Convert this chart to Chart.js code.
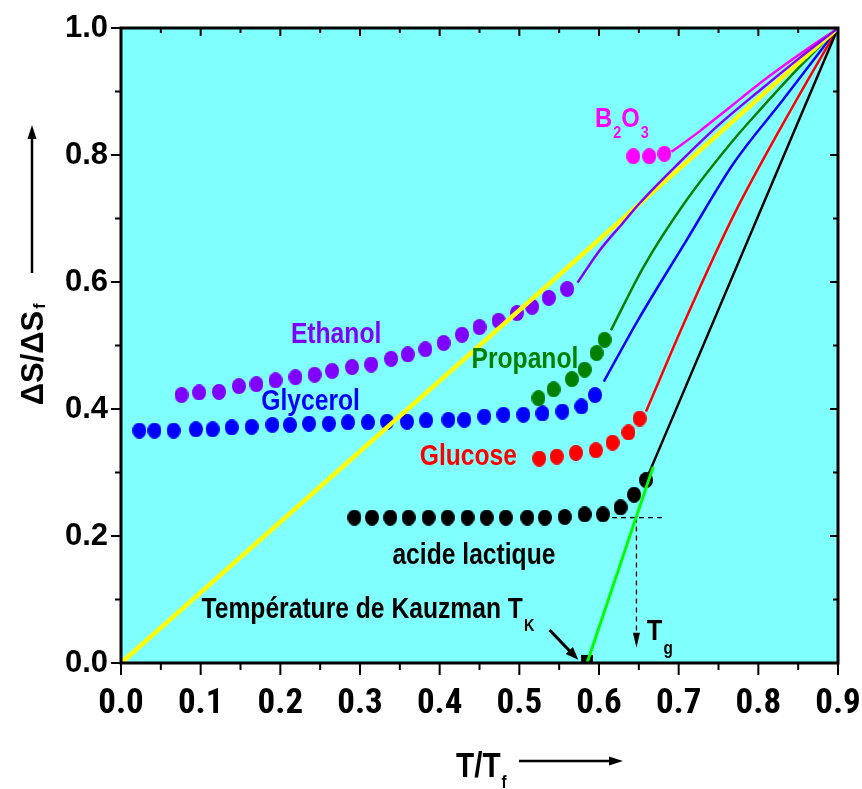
<!DOCTYPE html>
<html>
<head>
<meta charset="utf-8">
<script src="https://cdn.jsdelivr.net/npm/chart.js@4.4.1/dist/chart.umd.min.js"></script>
<style>
  html, body { margin: 0; padding: 0; background: #fff; }
  canvas { display: block; }
</style>
</head>
<body>
<canvas id="kauzChart" width="862" height="789"></canvas>
<script>
// valeurs : T/Tf (x) et ΔS/ΔSf (y)
const ethanolT = [0.076, 0.098, 0.123, 0.148, 0.170, 0.194, 0.219, 0.243, 0.265, 0.290, 0.314, 0.339, 0.360, 0.382, 0.405, 0.428, 0.450, 0.474, 0.497, 0.516, 0.537, 0.560];
const ethanolS = [0.422, 0.426, 0.427, 0.436, 0.439, 0.445, 0.450, 0.454, 0.460, 0.466, 0.470, 0.479, 0.486, 0.494, 0.504, 0.517, 0.529, 0.539, 0.551, 0.561, 0.575, 0.589];
const ethanolCurveT = [0.573, 0.601, 0.630, 0.651, 0.700, 0.750, 0.802, 0.850, 0.900];
const ethanolCurveS = [0.599, 0.650, 0.693, 0.724, 0.787, 0.847, 0.902, 0.951, 1.000];

const glycerolT = [0.023, 0.042, 0.066, 0.094, 0.115, 0.139, 0.164, 0.190, 0.212, 0.236, 0.261, 0.285, 0.310, 0.334, 0.359, 0.383, 0.411, 0.431, 0.456, 0.480, 0.505, 0.529, 0.554, 0.578, 0.595];
const glycerolS = [0.366, 0.366, 0.366, 0.368, 0.368, 0.371, 0.372, 0.375, 0.375, 0.377, 0.377, 0.379, 0.379, 0.380, 0.380, 0.382, 0.383, 0.383, 0.388, 0.391, 0.391, 0.393, 0.396, 0.404, 0.422];
const glycerolCurveT = [0.606, 0.649, 0.710, 0.769, 0.831, 0.900];
const glycerolCurveS = [0.443, 0.540, 0.666, 0.787, 0.887, 1.000];

const propanolT = [0.524, 0.543, 0.566, 0.582, 0.597, 0.607];
const propanolS = [0.417, 0.431, 0.447, 0.462, 0.488, 0.509];
const propanolCurveT = [0.615, 0.656, 0.710, 0.769, 0.802, 0.852, 0.900];
const propanolCurveS = [0.524, 0.624, 0.729, 0.824, 0.871, 0.939, 1.000];

const glucoseT = [0.525, 0.547, 0.571, 0.596, 0.617, 0.637, 0.651];
const glucoseS = [0.322, 0.325, 0.331, 0.335, 0.347, 0.363, 0.385];
const glucoseCurveT = [0.659, 0.710, 0.769, 0.848, 0.900];
const glucoseCurveS = [0.396, 0.545, 0.705, 0.887, 1.000];

const lactiqueT = [0.293, 0.315, 0.338, 0.361, 0.386, 0.410, 0.435, 0.459, 0.483, 0.510, 0.532, 0.557, 0.582, 0.605, 0.627, 0.644, 0.659];
const lactiqueS = [0.229, 0.229, 0.229, 0.229, 0.229, 0.229, 0.229, 0.229, 0.229, 0.229, 0.229, 0.230, 0.234, 0.234, 0.245, 0.265, 0.288];
const lactiqueCurveT = [0.659, 0.900];
const lactiqueCurveS = [0.288, 1.000];

const b2o3T = [0.643, 0.663, 0.682];
const b2o3S = [0.798, 0.798, 0.802];
const b2o3CurveT = [0.691, 0.727, 0.752, 0.777, 0.802, 0.850, 0.900];
const b2o3CurveS = [0.805, 0.838, 0.863, 0.888, 0.913, 0.957, 1.000];

// droite ΔS/ΔSf = (T/Tf)/0.9
const idealT = [0, 0.9];
const idealS = [0, 1];

// extrapolation vers Kauzman
const kauzT = [0.585, 0.668];
const kauzS = [0.000, 0.309];
const tkT = 0.585;

// Tg : pointillés
const tgT = 0.647;
const tgS = 0.229;
const tgLevelT = [0.605, 0.682];
const tgDropS = [0.229, 0.047];

const xTicks = [0, 0.1, 0.2, 0.3, 0.4, 0.5, 0.6, 0.7, 0.8, 0.9];
const yTicks = [0, 0.2, 0.4, 0.6, 0.8, 1.0];

const SANS = '"Liberation Sans", Arial, sans-serif';
const COND = '"Roboto Condensed", "DejaVu Sans Condensed", sans-serif';
const SQUEEZE = 0.85; // Arial Narrow ~ Arial compressé

const zip = (xs, ys) => xs.map((x, i) => ({ x: x, y: ys[i] }));

function dot(color) {
  const c = document.createElement('canvas');
  c.width = 14; c.height = 16;
  const g = c.getContext('2d');
  g.fillStyle = color;
  g.beginPath();
  g.ellipse(7, 8, 7, 8, 0, 0, Math.PI * 2);
  g.fill();
  return c;
}

function tkMark() {
  const c = document.createElement('canvas');
  c.width = 12; c.height = 8;
  const g = c.getContext('2d');
  g.fillStyle = '#000';
  g.fillRect(0, 0, 12, 8);
  return c;
}

function pts(xs, ys, color) {
  return { data: zip(xs, ys), showLine: false, pointStyle: dot(color), pointRadius: 8, pointHoverRadius: 8 };
}

function curve(xs, ys, color, width) {
  return {
    data: zip(xs, ys), showLine: true, borderColor: color, borderWidth: width || 2.5,
    pointRadius: 0, cubicInterpolationMode: 'monotone', fill: false
  };
}

function dashed(xs, ys) {
  return { data: zip(xs, ys), showLine: true, borderColor: '#000', borderWidth: 1.3, borderDash: [5, 4], pointRadius: 0 };
}

function arrowHead(ctx, x1, y1, x2, y2, len, half) {
  const a = Math.atan2(y2 - y1, x2 - x1);
  ctx.beginPath();
  ctx.moveTo(x2, y2);
  ctx.lineTo(x2 - len * Math.cos(a) + half * Math.sin(a), y2 - len * Math.sin(a) - half * Math.cos(a));
  ctx.lineTo(x2 - len * Math.cos(a) - half * Math.sin(a), y2 - len * Math.sin(a) + half * Math.cos(a));
  ctx.closePath();
  ctx.fill();
}

// texte gras étroit, renvoie la largeur dessinée
function narrow(ctx, text, x, y, size, align, baseline) {
  ctx.save();
  ctx.font = 'bold ' + size + 'px ' + SANS;
  ctx.textAlign = align || 'left';
  ctx.textBaseline = baseline || 'alphabetic';
  ctx.translate(x, y);
  ctx.scale(SQUEEZE, 1);
  ctx.fillText(text, 0, 0);
  const w = ctx.measureText(text).width * SQUEEZE;
  ctx.restore();
  return w;
}

function withSub(ctx, main, sub, x, y, size, subSize, subDrop) {
  const w = narrow(ctx, main, x, y, size);
  narrow(ctx, sub, x + w + 1, y + subDrop, subSize);
}

const decor = {
  id: 'decor',
  beforeDatasetsDraw(chart) {
    const { ctx, chartArea: a } = chart;
    ctx.save();
    ctx.fillStyle = '#80ffff';
    ctx.fillRect(a.left, a.top, a.width, a.height);
    ctx.restore();
  },
  afterDatasetsDraw(chart) {
    const { ctx, chartArea: a } = chart;
    const xs = chart.scales.x, ys = chart.scales.y;
    const X = v => xs.getPixelForValue(v);
    const Y = v => ys.getPixelForValue(v);
    ctx.save();

    // ticks (majeurs + mineurs), dehors à gauche/en bas, dedans en haut/à droite
    ctx.strokeStyle = '#000';
    ctx.lineWidth = 2;
    const seg = (x1, y1, x2, y2) => { ctx.beginPath(); ctx.moveTo(x1, y1); ctx.lineTo(x2, y2); ctx.stroke(); };
    xTicks.forEach((v, i) => {
      seg(X(v), a.bottom, X(v), a.bottom + 12);
      seg(X(v), a.top, X(v), a.top + 8);
      if (i < xTicks.length - 1) {
        const m = X((v + xTicks[i + 1]) / 2);
        seg(m, a.bottom, m, a.bottom + 7);
        seg(m, a.top, m, a.top + 5);
      }
    });
    yTicks.forEach((v, i) => {
      seg(a.left - 10, Y(v), a.left, Y(v));
      seg(a.right - 8, Y(v), a.right, Y(v));
      if (i < yTicks.length - 1) {
        const m = Y((v + yTicks[i + 1]) / 2);
        seg(a.left - 6, m, a.left, m);
        seg(a.right - 5, m, a.right, m);
      }
    });
    ctx.lineWidth = 3;
    ctx.strokeRect(a.left, a.top, a.width, a.height);

    // flèche Tg
    ctx.fillStyle = '#000';
    arrowHead(ctx, X(tgT), Y(0.06), X(tgT), Y(0.024), 15, 3.5);

    // flèche Kauzman
    ctx.lineWidth = 3;
    seg(X(0.538), Y(0.052), X(0.567), Y(0.014));
    arrowHead(ctx, X(0.538), Y(0.052), X(0.574), Y(0.005), 13, 5);

    // étiquettes des courbes
    const lab = (t, x, y, c) => { ctx.fillStyle = c; narrow(ctx, t, X(x), Y(y), 29, 'center', 'middle'); };
    lab('Ethanol', 0.270, 0.517, '#8000ff');
    lab('Glycerol', 0.238, 0.411, '#0000ff');
    lab('Propanol', 0.507, 0.477, '#008000');
    lab('Glucose', 0.436, 0.324, '#ff0000');
    lab('acide lactique', 0.443, 0.169, '#000');

    // B2O3
    ctx.fillStyle = '#ff00ff';
    let bx = X(0.595);
    const by = Y(0.844);
    bx += narrow(ctx, 'B', bx, by, 28) + 1;
    bx += narrow(ctx, '2', bx, by + 11, 17);
    bx += narrow(ctx, 'O', bx, by, 28) + 1;
    narrow(ctx, '3', bx, by + 11, 17);

    ctx.fillStyle = '#000';
    withSub(ctx, 'Température de Kauzman T', 'K', X(0.101), Y(0.071), 29, 17, 13);
    withSub(ctx, 'T', 'g', X(0.660), Y(0.036), 30, 18, 14);

    // titres des axes
    withSub(ctx, 'T/T', 'f', 456, 777, 35, 18, 11);
    ctx.lineWidth = 2.5;
    seg(519, 761, 612, 761);
    arrowHead(ctx, 519, 761, 623, 761, 14, 4.5);

    ctx.translate(43, 358);
    ctx.rotate(-Math.PI / 2);
    ctx.font = 'bold 31px ' + SANS;
    ctx.textAlign = 'center';
    ctx.textBaseline = 'alphabetic';
    ctx.fillText('ΔS/ΔS', 0, 0);
    const tw = ctx.measureText('ΔS/ΔS').width;
    ctx.font = 'bold 16px ' + SANS;
    ctx.textAlign = 'left';
    ctx.fillText('f', tw / 2 + 2, 2);
    ctx.setTransform(1, 0, 0, 1, 0, 0);
    ctx.lineWidth = 2.5;
    seg(32, 273, 32, 138);
    arrowHead(ctx, 32, 273, 32, 125, 14, 4.5);

    ctx.restore();
  }
};

new Chart(document.getElementById('kauzChart'), {
  type: 'scatter',
  data: {
    datasets: [
      curve(kauzT, kauzS, '#00ff00', 3),
      { data: [{ x: tkT, y: 0.006 }], showLine: false, pointStyle: tkMark(), pointRadius: 6 },
      dashed(tgLevelT, [tgS, tgS]),
      dashed([tgT, tgT], tgDropS),
      curve(ethanolCurveT, ethanolCurveS, '#8000ff'),
      curve(idealT, idealS, '#ffff00', 4.5),
      pts(lactiqueT, lactiqueS, '#000'),
      curve(lactiqueCurveT, lactiqueCurveS, '#000'),
      pts(glucoseT, glucoseS, '#ff0000'),
      curve(glucoseCurveT, glucoseCurveS, '#ff0000'),
      pts(propanolT, propanolS, '#008000'),
      curve(propanolCurveT, propanolCurveS, '#008000'),
      pts(glycerolT, glycerolS, '#0000ff'),
      curve(glycerolCurveT, glycerolCurveS, '#0000ff'),
      pts(ethanolT, ethanolS, '#8000ff'),
      pts(b2o3T, b2o3S, '#ff00ff'),
      curve(b2o3CurveT, b2o3CurveS, '#ff00ff')
    ]
  },
  options: {
    responsive: false,
    animation: false,
    layout: { padding: { top: 28, right: 24, left: 0, bottom: 0 } },
    plugins: { legend: { display: false }, tooltip: { enabled: false } },
    scales: {
      x: {
        type: 'linear', min: 0, max: 0.9,
        afterFit: s => { s.height = 126; s.paddingLeft = 0; s.paddingRight = 0; },
        afterBuildTicks: s => { s.ticks = xTicks.map(v => ({ value: v })); },
        grid: { display: false, drawTicks: false },
        border: { display: false },
        ticks: {
          callback: v => v.toFixed(1),
          color: '#000', padding: 20,
          font: { family: COND, size: 35, weight: 'bold' }
        }
      },
      y: {
        type: 'linear', min: 0, max: 1,
        afterFit: s => { s.width = 121; s.paddingTop = 0; s.paddingBottom = 0; },
        afterBuildTicks: s => { s.ticks = yTicks.map(v => ({ value: v })); },
        grid: { display: false, drawTicks: false },
        border: { display: false },
        ticks: {
          callback: v => v.toFixed(1),
          color: '#000', padding: 13,
          font: { family: SANS, size: 31, weight: 'bold' }
        }
      }
    }
  },
  plugins: [decor]
});
</script>
</body>
</html>
